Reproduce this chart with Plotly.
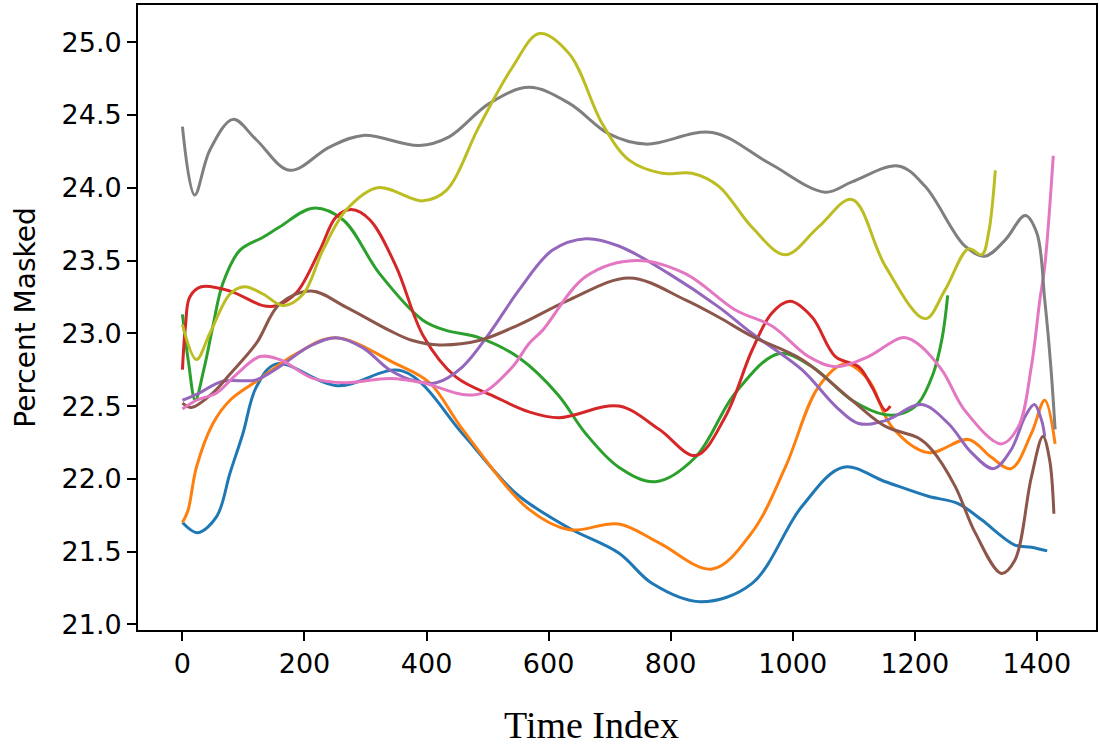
import plotly.graph_objects as go

# ---- data ----
blue_x = [0, 25, 56, 78, 99, 121, 154, 254, 361, 459, 514, 552, 634, 715, 770, 849, 933, 1015, 1083, 1152, 1222, 1271, 1309, 1364, 1391, 1417]
blue_y = [21.70, 21.63, 21.74, 22.04, 22.31, 22.63, 22.79, 22.64, 22.74, 22.31, 22.04, 21.88, 21.66, 21.49, 21.28, 21.155, 21.28, 21.81, 22.08, 21.98, 21.88, 21.83, 21.72, 21.545, 21.53, 21.505]

orange_x = [0, 9, 23, 50, 78, 121, 187, 250, 350, 405, 459, 568, 634, 715, 781, 868, 933, 988, 1042, 1086, 1124, 1162, 1222, 1288, 1325, 1358, 1391, 1413, 1430]
orange_y = [21.70, 21.78, 22.08, 22.38, 22.54, 22.67, 22.86, 22.97, 22.79, 22.66, 22.34, 21.79, 21.65, 21.69, 21.56, 21.38, 21.63, 22.08, 22.63, 22.79, 22.68, 22.36, 22.18, 22.27, 22.15, 22.07, 22.31, 22.54, 22.24]

green_x = [0, 10, 21, 35, 50, 66, 94, 132, 159, 214, 263, 323, 394, 432, 486, 552, 615, 661, 715, 775, 841, 906, 977, 1032, 1097, 1152, 1180, 1206, 1230, 1245, 1254]
green_y = [23.13, 22.80, 22.54, 22.75, 23.05, 23.34, 23.57, 23.66, 23.73, 23.86, 23.78, 23.41, 23.09, 23.02, 22.97, 22.83, 22.58, 22.31, 22.08, 21.98, 22.15, 22.59, 22.86, 22.77, 22.54, 22.44, 22.45, 22.52, 22.72, 22.97, 23.26]

red_x = [0, 5, 12, 31, 78, 132, 154, 187, 225, 252, 277, 307, 350, 395, 448, 514, 568, 617, 715, 781, 841, 890, 933, 966, 996, 1032, 1070, 1108, 1130, 1152, 1160]
red_y = [22.75, 23.05, 23.25, 23.32, 23.29, 23.19, 23.19, 23.28, 23.57, 23.80, 23.85, 23.78, 23.46, 22.98, 22.70, 22.56, 22.46, 22.42, 22.50, 22.34, 22.16, 22.43, 22.88, 23.14, 23.22, 23.11, 22.84, 22.77, 22.63, 22.47, 22.50]

purple_x = [0, 23, 66, 121, 159, 208, 252, 296, 339, 383, 416, 459, 503, 552, 606, 661, 715, 797, 879, 933, 1015, 1070, 1108, 1152, 1211, 1255, 1293, 1329, 1358, 1381, 1396, 1408, 1413]
purple_y = [22.54, 22.58, 22.67, 22.68, 22.77, 22.91, 22.97, 22.90, 22.75, 22.67, 22.66, 22.77, 23.00, 23.30, 23.57, 23.65, 23.60, 23.41, 23.18, 23.00, 22.75, 22.50, 22.38, 22.40, 22.51, 22.38, 22.18, 22.07, 22.20, 22.43, 22.51, 22.40, 22.29]

brown_x = [0, 15, 50, 78, 121, 159, 211, 268, 339, 377, 421, 486, 552, 634, 732, 824, 879, 933, 1015, 1097, 1152, 1206, 1228, 1266, 1299, 1342, 1364, 1391, 1410, 1421, 1428]
brown_y = [22.52, 22.49, 22.59, 22.72, 22.93, 23.20, 23.29, 23.18, 23.02, 22.95, 22.92, 22.95, 23.06, 23.23, 23.38, 23.23, 23.11, 22.98, 22.82, 22.54, 22.36, 22.28, 22.20, 21.95, 21.63, 21.35, 21.44, 22.01, 22.29, 22.13, 21.76]

pink_x = [0, 23, 56, 89, 127, 159, 214, 268, 339, 394, 459, 492, 541, 568, 590, 661, 743, 824, 906, 966, 1026, 1070, 1124, 1179, 1201, 1244, 1282, 1342, 1370, 1391, 1405, 1413, 1427]
pink_y = [22.48, 22.54, 22.59, 22.72, 22.84, 22.82, 22.69, 22.66, 22.69, 22.66, 22.58, 22.59, 22.77, 22.93, 23.02, 23.39, 23.50, 23.41, 23.16, 23.05, 22.84, 22.77, 22.84, 22.97, 22.94, 22.75, 22.47, 22.24, 22.36, 22.77, 23.23, 23.46, 24.22]

gray_x = [0, 20, 45, 83, 121, 176, 241, 296, 388, 437, 503, 568, 634, 699, 759, 868, 961, 1053, 1097, 1173, 1217, 1282, 1315, 1348, 1381, 1400, 1413, 1423, 1430]
gray_y = [24.42, 23.95, 24.26, 24.47, 24.33, 24.12, 24.28, 24.36, 24.29, 24.35, 24.58, 24.69, 24.58, 24.37, 24.30, 24.38, 24.17, 23.97, 24.04, 24.15, 24.01, 23.60, 23.53, 23.64, 23.81, 23.69, 23.23, 22.77, 22.34]

olive_x = [0, 23, 45, 78, 102, 132, 165, 198, 230, 269, 320, 394, 432, 486, 541, 585, 634, 688, 732, 786, 835, 879, 933, 988, 1042, 1097, 1152, 1217, 1250, 1288, 1310, 1321, 1332]
olive_y = [23.06, 22.82, 23.00, 23.27, 23.32, 23.27, 23.19, 23.27, 23.57, 23.85, 24.00, 23.91, 23.98, 24.42, 24.83, 25.06, 24.92, 24.44, 24.19, 24.10, 24.10, 24.01, 23.73, 23.54, 23.73, 23.92, 23.46, 23.10, 23.30, 23.58, 23.54, 23.69, 24.12]

series = [
    (blue_x, blue_y, "#1f77b4"),
    (orange_x, orange_y, "#ff7f0e"),
    (green_x, green_y, "#2ca02c"),
    (red_x, red_y, "#d62728"),
    (purple_x, purple_y, "#9467bd"),
    (brown_x, brown_y, "#8c564b"),
    (pink_x, pink_y, "#e377c2"),
    (gray_x, gray_y, "#7f7f7f"),
    (olive_x, olive_y, "#bcbd22"),
]

x_ticks = [0, 200, 400, 600, 800, 1000, 1200, 1400]
y_ticks = [21.0, 21.5, 22.0, 22.5, 23.0, 23.5, 24.0, 24.5, 25.0]

fig = go.Figure()
for xs, ys, col in series:
    fig.add_trace(go.Scatter(x=xs, y=ys, mode="lines",
                             line=dict(color=col, width=3.0, shape="spline", smoothing=1.0),
                             showlegend=False, hoverinfo="skip"))

axis_common = dict(showline=True, mirror=True, linecolor="black", linewidth=1.8,
                   ticks="outside", ticklen=9, tickwidth=1.6, tickcolor="black",
                   showgrid=False, zeroline=False,
                   tickfont=dict(family="DejaVu Sans", size=27, color="black"))

fig.update_xaxes(range=[-72.8, 1497], tickvals=x_ticks,
                 ticktext=[str(v) for v in x_ticks], **axis_common)
fig.update_yaxes(range=[20.961, 25.256], tickvals=y_ticks,
                 ticktext=[f"{v:.1f}" for v in y_ticks],
                 title=dict(text="Percent Masked", standoff=18,
                            font=dict(family="DejaVu Sans", size=28, color="black")),
                 **axis_common)

fig.add_annotation(text="Time Index", xref="paper", yref="paper",
                   x=0.4734, y=-0.152, xanchor="center", yanchor="middle",
                   showarrow=False, borderpad=0,
                   font=dict(family="Liberation Serif", size=38, color="black"))

fig.update_layout(width=1100, height=749, margin=dict(l=138, r=2, t=5, b=119),
                  paper_bgcolor="white", plot_bgcolor="white")

fig.write_html("out.html")
